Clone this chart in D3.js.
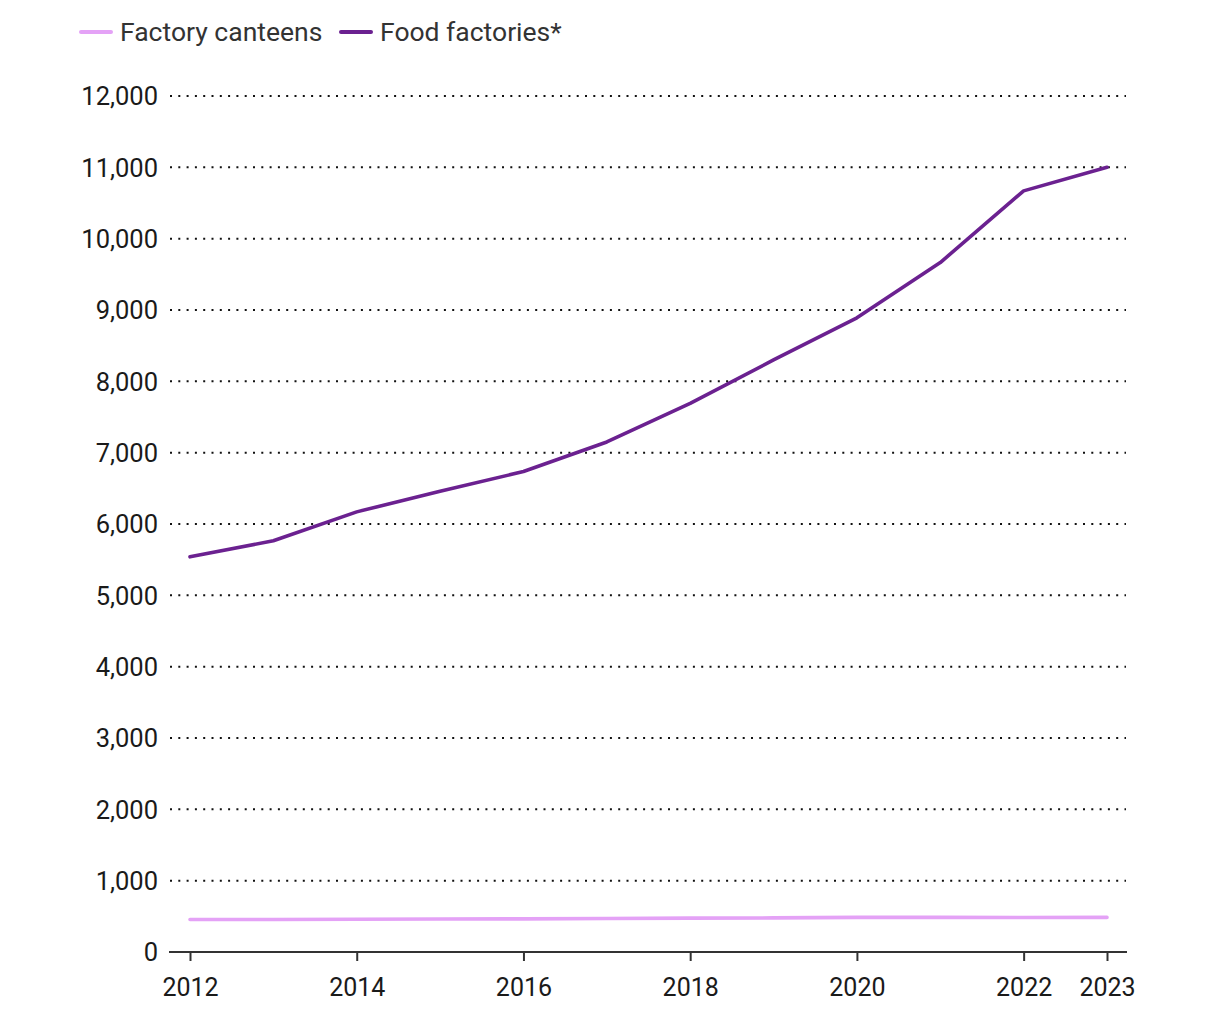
<!DOCTYPE html>
<html>
<head>
<meta charset="utf-8">
<script src="https://cdn.jsdelivr.net/npm/d3@7"></script>
<style>
  html, body { margin: 0; padding: 0; background: #fff; }
  svg { display: block; font-family: Roboto, "Noto Sans", sans-serif; }
</style>
</head>
<body>
<svg id="chart" width="1220" height="1020"></svg>
<script>
const years = [2012, 2013, 2014, 2015, 2016, 2017, 2018, 2019, 2020, 2021, 2022, 2023];
const factoryCanteens = [455, 455, 460, 462, 465, 470, 475, 478, 485, 485, 483, 485];
const foodFactories = [5540, 5765, 6170, 6460, 6735, 7150, 7690, 8300, 8890, 9665, 10670, 11000];
const xTickLabels = [2012, 2014, 2016, 2018, 2020, 2022, 2023];
const yTickValues = [0, 1000, 2000, 3000, 4000, 5000, 6000, 7000, 8000, 9000, 10000, 11000, 12000];
const seriesNames = ["Factory canteens", "Food factories*"];
const seriesColors = ["#e4a2f6", "#6b2190"];

const svg = d3.select("#chart");
const x = d3.scaleLinear().domain([2012, 2023]).range([190, 1107]);
const y = d3.scaleLinear().domain([0, 12000]).range([952, 96]);
const gridLeft = 170, gridRight = 1126;

// gridlines
const grid = svg.append("g");
yTickValues.filter(v => v > 0).forEach(v => {
  grid.append("line")
    .attr("x1", gridLeft).attr("x2", gridRight)
    .attr("y1", y(v)).attr("y2", y(v))
    .attr("stroke", "#111").attr("stroke-width", 2)
    .attr("stroke-dasharray", "2,6.3");
});

// y axis labels
const yAxis = d3.axisLeft(y).tickValues(yTickValues).tickSize(0).tickPadding(0)
  .tickFormat(d3.format(","));
const gy = svg.append("g").attr("transform", "translate(158,0)").call(yAxis);
gy.select(".domain").remove();
gy.selectAll("text").attr("font-size", 25.5).attr("fill", "#1a1a1a")
  .attr("font-family", "Roboto, sans-serif").attr("dy", "0.35em");

// x axis
const xAxis = d3.axisBottom(x).tickValues(xTickLabels).tickSize(9).tickPadding(17)
  .tickFormat(d3.format("d"));
const gx = svg.append("g").attr("transform", "translate(0,952)").call(xAxis);
gx.select(".domain").remove();
gx.selectAll(".tick line").attr("stroke", "#333").attr("stroke-width", 2);
gx.selectAll("text").attr("font-size", 25).attr("fill", "#1a1a1a")
  .attr("font-family", "Roboto, sans-serif");
svg.append("line").attr("x1", 169).attr("x2", 1127).attr("y1", 952).attr("y2", 952)
  .attr("stroke", "#333").attr("stroke-width", 2);

// lines
const line = d3.line().x((d, i) => x(years[i])).y(d => y(d));
[factoryCanteens, foodFactories].forEach((vals, k) => {
  svg.append("path").datum(vals)
    .attr("d", line)
    .attr("fill", "none")
    .attr("stroke", seriesColors[k])
    .attr("stroke-width", 3.6)
    .attr("stroke-linejoin", "round")
    .attr("stroke-linecap", "round");
});

// legend
const legendX = [81, 341];
seriesNames.forEach((name, k) => {
  const g = svg.append("g").attr("transform", `translate(${legendX[k]},32)`);
  g.append("line").attr("x1", 0).attr("x2", 30).attr("y1", 0).attr("y2", 0)
    .attr("stroke", seriesColors[k]).attr("stroke-width", 4).attr("stroke-linecap", "round");
  g.append("text").attr("x", 39).attr("y", 0).attr("dy", "0.35em")
    .attr("font-size", 26.5).attr("fill", "#333").text(name);
});
</script>
</body>
</html>
